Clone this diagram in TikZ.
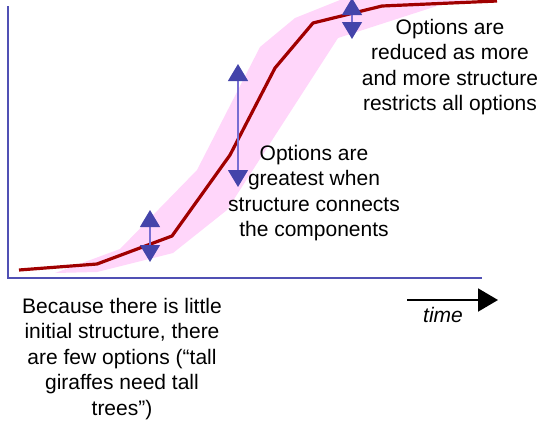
\documentclass[tikz,border=0pt]{standalone}
\usepackage{fontspec}
\setmainfont{Liberation Sans}
\usetikzlibrary{arrows.meta}
\definecolor{axisblue}{RGB}{80,80,180}
\definecolor{headblue}{RGB}{68,68,170}
\definecolor{shaftblue}{RGB}{120,110,210}
\definecolor{bandpink}{RGB}{255,214,250}
\definecolor{curvered}{RGB}{160,0,0}
\tikzset{
  txt/.style={align=center, inner sep=0, font=\fontsize{21}{25.5}\selectfont},
  dblarrow/.style={shaftblue, line width=1.2pt,
    {Triangle[width=20pt,length=17pt,fill=headblue,color=headblue]}-{Triangle[width=20pt,length=17pt,fill=headblue,color=headblue]}}
}
\begin{document}
\begin{tikzpicture}[x=1pt,y=-1pt]
    \useasboundingbox (0,0) rectangle (540,424);

    % band of options
    \fill[bandpink] (55,273) -- (120,249) -- (197,170) -- (260,47) -- (295,18) -- (340,0)
        -- (470,0) -- (440,5) -- (338,38) -- (227,210) -- (173,253) -- (97,272) -- cycle;

    % axes
    \coordinate (origin) at (8,278);
    \coordinate (ytop) at (8,6);
    \coordinate (xend) at (482,278);
    \draw[axisblue, line width=2pt] (ytop) -- (origin) -- (xend);

    % growth curve
    \draw[curvered, line width=3.2pt, line join=round]
        (19,270) -- (97,264) -- (172,236) -- (230,155) -- (275,68) -- (313,23) -- (382,6) -- (497,1);

    % option arrows
    \coordinate (a1t) at (150,210);
    \coordinate (a1b) at (150,262);
    \draw[dblarrow] (a1t) -- (a1b);

    \coordinate (a2t) at (238,64);
    \coordinate (a2b) at (238,187);
    \draw[dblarrow] (a2t) -- (a2b);

    \coordinate (a3t) at (352,-2);
    \coordinate (a3b) at (352,39);
    \draw[dblarrow] (a3t) -- (a3b);

    % labels
    \node[txt] (reduced) at (450,67) {Options are\\reduced as more\\and more structure\\restricts all options};
    \node[txt] (greatest) at (314,193) {Options are\\greatest when\\structure connects\\the components};
    \node[txt] (few) at (122,359) {Because there is little\\initial structure, there\\are few options (“tall\\giraffes need tall\\trees”)};

    % time arrow
    \coordinate (tstart) at (407,300);
    \coordinate (tend) at (498,300);
    \draw[line width=2pt, -{Triangle[width=23pt,length=20pt]}] (tstart) -- (tend);
    \node[txt, font=\fontsize{21}{25.5}\selectfont\itshape] (time) at (443,315) {time};
\end{tikzpicture}
\end{document}
